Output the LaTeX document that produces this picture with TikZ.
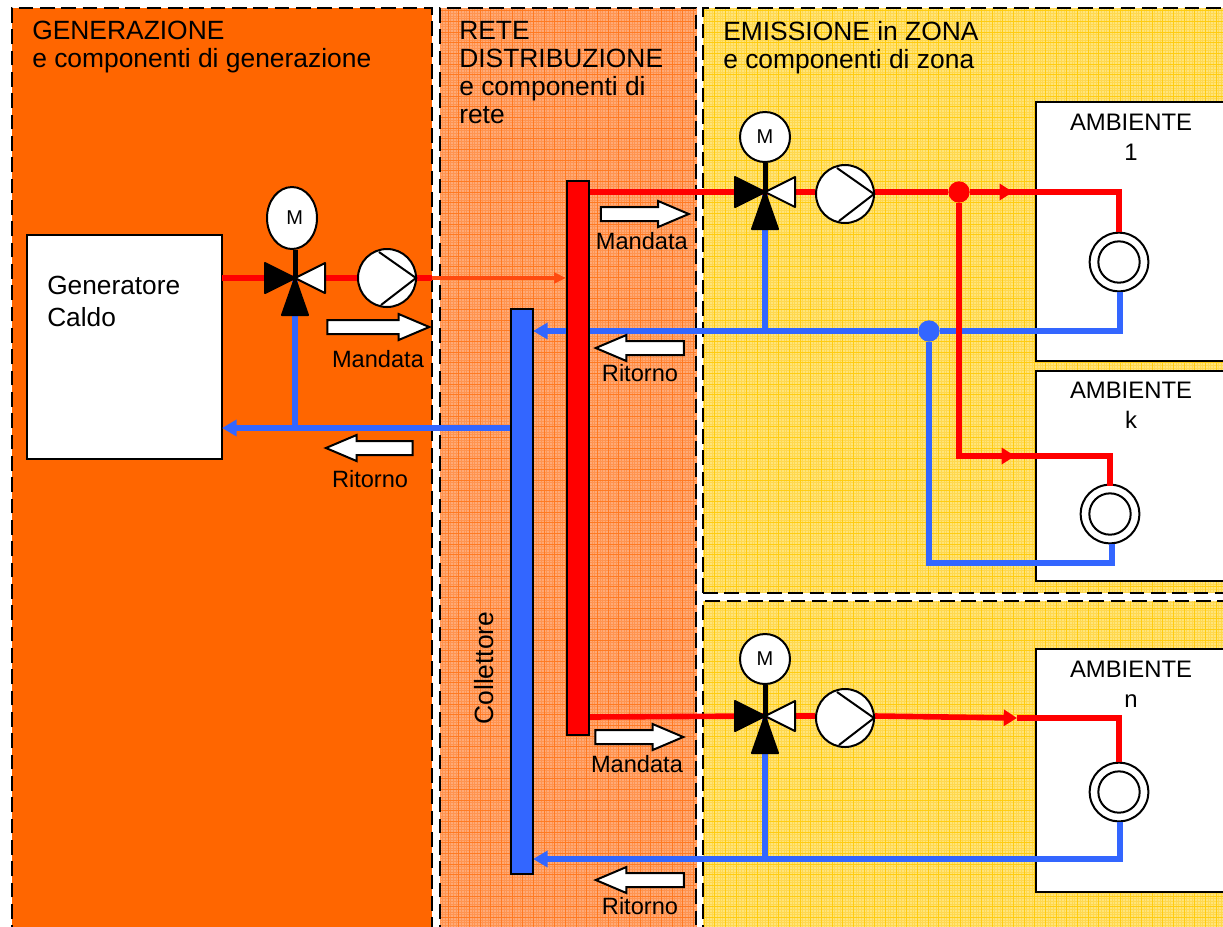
\documentclass[tikz,border=0pt]{standalone}
\usepackage{fontspec}
\usepackage{xcolor}
\setmainfont{Liberation Sans}
\usetikzlibrary{shapes,arrows.meta,positioning}

\definecolor{genorange}{HTML}{FF6600}
\definecolor{netpeach}{HTML}{FFAA77}
\definecolor{netfine}{HTML}{FF9450}
\definecolor{netline}{HTML}{FF7A22}
\definecolor{zoneyellow}{HTML}{FFE57A}
\definecolor{zonefine}{HTML}{FFD84F}
\definecolor{zoneline}{HTML}{FFCC11}
\definecolor{pipered}{HTML}{FF0000}
\definecolor{pipelink}{HTML}{FF4A0F}
\definecolor{pipeblue}{HTML}{3366FF}

\tikzset{
  valve/.pic={
    \coordinate (-c) at (0,0);
    \draw[black, line width=1.5pt, fill=white, line join=round] (0,0) -- (30,-15) -- (30,15) -- cycle;
    \draw[black, line width=1.5pt, fill=black, line join=round] (0,0) -- (-30,-15) -- (-30,15) -- cycle;
    \draw[black, line width=1.5pt, fill=black, line join=round] (0,0) -- (-13,37) -- (13,37) -- cycle;
  },
  pumpmark/.pic={
    \draw[black, line width=1.5pt] (-8,-26) -- (29,0) -- (-6,27);
  }
}

\begin{document}
\begin{tikzpicture}[
    x=0.75pt, y=-0.75pt,
    panel/.style={black, line width=1.5pt, dash pattern=on 11pt off 5pt},
    netgrid/.style={netline, line width=0.75pt, step=8pt},
    netdots/.style={netfine, line width=0.5pt, step=2pt},
    zonegrid/.style={zoneline, line width=0.75pt, step=8pt},
    zonedots/.style={zonefine, line width=0.5pt, step=2pt},
    headtext/.style={anchor=north west, inner sep=0pt, align=left,
                     font=\fontsize{19.8}{21}\selectfont},
    bar/.style={draw=black, line width=1.5pt, minimum width=16.5pt, inner sep=0pt},
    room/.style={draw=black, fill=white, line width=1.5pt, inner sep=0pt, minimum width=180pt},
    roomtext/.style={anchor=north, inner sep=0pt, align=center,
                     font=\fontsize{17.9}{22}\selectfont},
    motor/.style={draw=black, fill=white, line width=1.5pt, circle, inner sep=0pt,
                  minimum size=37.5pt, font=\fontsize{15}{16}\selectfont},
    pump/.style={draw=black, fill=white, line width=1.5pt, circle, inner sep=0pt,
                 minimum size=43.5pt},
    radout/.style={draw=black, fill=white, line width=1.5pt, circle, inner sep=0pt,
                   minimum size=44pt},
    radin/.style={draw=black, line width=1.5pt, circle, inner sep=0pt,
                  minimum size=31pt},
    flowarr/.style={single arrow, draw=black, fill=white, line width=1.5pt,
                    inner xsep=0pt, inner ysep=4.5pt, minimum height=66pt,
                    single arrow head extend=4.5pt, single arrow tip angle=46},
    flowtext/.style={inner sep=0pt, font=\fontsize{17.7}{20}\selectfont},
    redpipe/.style={pipered, line width=4.2pt},
    bluepipe/.style={pipeblue, line width=4.2pt},
    redarr/.style={redpipe, -{Triangle[length=10pt, width=12pt]}},
    bluearr/.style={bluepipe, -{Triangle[length=11pt, width=12pt]}},
    stem/.style={black, line width=3.75pt},
    redjoint/.style={circle, fill=pipered, inner sep=0pt, minimum size=16pt},
    bluejoint/.style={circle, fill=pipeblue, inner sep=0pt, minimum size=16pt}
]
\clip (0,0) rectangle (1223,926);
\fill[white] (0,0) rectangle (1223,926);

% zones
\fill[genorange] (12,8) rectangle (432,940);
\draw[panel] (12,940) -- (12,8) -- (432,8) -- (432,940);

\fill[netpeach] (440,8) rectangle (696,940);
\draw[netdots] (440,8) grid (696,940);
\draw[netgrid] (440,8) grid (696,940);
\draw[panel] (440,940) -- (440,8) -- (696,8) -- (696,940);

\fill[zoneyellow] (703,8) rectangle (1240,593);
\draw[zonedots] (703,8) grid (1240,593);
\draw[zonegrid] (703,8) grid (1240,593);
\draw[panel] (703,593) -- (703,8) -- (1240,8);
\draw[panel] (703,593) -- (1240,593);

\fill[zoneyellow] (703,601) rectangle (1240,940);
\draw[zonedots] (703,601) grid (1240,940);
\draw[zonegrid] (703,601) grid (1240,940);
\draw[panel] (703,940) -- (703,601) -- (1240,601);

\node[headtext] (headgen) at (32,21) {GENERAZIONE\\e componenti di generazione};
\node[headtext] (headnet) at (459,21) {RETE\\DISTRIBUZIONE\\e componenti di\\rete};
\node[headtext] (headzone) at (723,21) {EMISSIONE in ZONA\\e componenti di zona};

% boxes
\node[draw=black, fill=white, line width=1.5pt, minimum width=146pt, minimum height=168pt,
      inner sep=0pt] (gen) at (124.5,347) {};
\node[anchor=north west, inner sep=0pt, align=left, font=\fontsize{19.7}{24}\selectfont]
      (gentext) at (47,276) {Generatore\\Caldo};

\node[room, minimum height=194pt, anchor=north west] (room1) at (1035,101) {};
\node[room, minimum height=157.5pt, anchor=north west] (roomk) at (1035,370) {};
\node[room, minimum height=182pt, anchor=north west] (roomn) at (1035,648) {};
\node[roomtext] (room1text) at (1131,114) {AMBIENTE\\1};
\node[roomtext] (roomktext) at (1131,382) {AMBIENTE\\k};
\node[roomtext] (roomntext) at (1131,661) {AMBIENTE\\n};

% equipment anchors
\coordinate (vgen) at (295,278);
\coordinate (v1) at (765,192);
\coordinate (v2) at (765,716);
\node[pump] (pgen) at (387,278) {};
\node[pump] (p1) at (845,194) {};
\node[pump] (p2) at (845,718) {};
\node[radout] (rad1) at (1119,262) {};
\node[radout] (radk) at (1110,514) {};
\node[radout] (radn) at (1119,792) {};
\node[redjoint] (redj) at (959,192) {};
\node[bluejoint] (bluej) at (929,331) {};

\coordinate (barred) at (578,458);
\coordinate (barblue) at (521.5,591.5);
\coordinate (genret) at (222,428);
\coordinate (genin) at (222,278);
\coordinate (tipnet) at (566,278);
\coordinate (zoneedge) at (432,278);
\coordinate (bluetop) at (533,331);
\coordinate (bluelow) at (533,859);
\coordinate (retgen) at (295,428);
\coordinate (ret1) at (765,331);
\coordinate (ret2) at (765,859);
\coordinate (corner1r) at (1119,192);
\coordinate (corner1b) at (1120,331);
\coordinate (cornerkr) at (959,456);
\coordinate (cornerka) at (1110,456);
\coordinate (cornerkb) at (929,563);
\coordinate (cornerkc) at (1112,563);
\coordinate (cornernr) at (1119,718);
\coordinate (cornernb) at (1120,859);
\coordinate (tip1) at (1013,192);
\coordinate (tipk) at (1015,456);
\coordinate (tipn) at (1017,718);
\coordinate (barout1) at (589,192);
\coordinate (barout2) at (589,717);
\coordinate (barin) at (510,428);

% return pipes
\draw[bluepipe] (vgen) -- (retgen);
\draw[bluearr] (barin) -- (genret);
\draw[bluepipe] (v1) -- (ret1);
\draw[bluepipe] (rad1.south -| corner1b) -- (corner1b) -- (bluej);
\draw[bluearr] (bluej) -- (bluetop);
\draw[bluepipe] (bluej) -- (cornerkb) -- (cornerkc) -- (radk.south -| cornerkc);
\draw[bluepipe] (v2) -- (ret2);
\draw[bluepipe] (radn.south -| cornernb) -- (cornernb) -- (ret2);
\draw[bluearr] (ret2) -- (bluelow);

% supply pipes
\draw[redpipe] (genin) -- (vgen);
\draw[redpipe] (vgen) -- (pgen);
\draw[redpipe] (pgen) -- (zoneedge);
\draw[pipelink, line width=2.4pt, -{Triangle[length=9pt, width=8pt]}] (zoneedge) -- (tipnet);
\draw[redpipe] (barout1) -- (v1);
\draw[redpipe] (v1) -- (p1.west |- v1);
\draw[redpipe] (p1.east |- v1) -- (redj);
\draw[redpipe] (redj) -- (corner1r) -- (rad1.north -| corner1r);
\draw[redarr] (redj) -- (tip1);
\draw[redpipe] (redj) -- (cornerkr) -- (cornerka) -- ([yshift=-2pt]radk.north -| cornerka);
\draw[redarr] (cornerkr) -- (tipk);
\draw[redpipe] (barout2) -- (v2);
\draw[redpipe] (v2) -- (p2.west |- v2);
\draw[redpipe] (tipn) -- (cornernr) -- (radn.north -| cornernr);
\draw[redarr] (p2.east |- v2) -- (tipn);

% collectors
\node[bar, fill=pipeblue, minimum height=423.5pt] (coll) at (barblue) {};
\node[bar, fill=pipered, minimum height=415.5pt] (feed) at (barred) {};
\node[inner sep=0pt, rotate=90, font=\fontsize{19.8}{20}\selectfont] (colltext) at (484,668) {Collettore};

% valves and pumps
\node[motor, ellipse, minimum width=37.5pt, minimum height=46.5pt] (mgen) at (292,218) {\hspace{4pt}M};
\node[motor] (m1) at (765,137) {\raisebox{-3.5pt}{M}};
\node[motor] (m2) at (765,659) {\raisebox{1pt}{M}};
\draw[stem] (mgen.south -| vgen) -- (vgen);
\draw[stem] (m1) -- (v1);
\draw[stem] (m2) -- (v2);
\pic (vg) at (vgen) {valve};
\pic (va) at (v1) {valve};
\pic (vb) at (v2) {valve};
\pic at (pgen) {pumpmark};
\pic at (p1) {pumpmark};
\pic at (p2) {pumpmark};
\node[radin] (rad1in) at (rad1) {};
\node[radin] (radkin) at (radk) {};
\node[radin] (radnin) at (radn) {};

% flow labels
\node[flowarr, minimum height=76.5pt] (mand0) at (370,327) {};
\node[flowarr, minimum height=65pt, shape border rotate=180] (rit0) at (377.5,448) {};
\node[flowarr] (mand1) at (636.5,214) {};
\node[flowarr, shape border rotate=180] (rit1) at (648,348) {};
\node[flowarr] (mand2) at (631,737) {};
\node[flowarr, shape border rotate=180] (rit2) at (648,880) {};
\node[flowtext, below=11pt of mand0, xshift=6pt] (mand0t) {Mandata};
\node[flowtext, below=10.3pt of rit0, xshift=-5.6pt] (rit0t) {Ritorno};
\node[flowtext, below=7.5pt of mand1, xshift=4pt] (mand1t) {Mandata};
\node[flowtext, below=6pt of rit1, xshift=-6pt] (rit1t) {Ritorno};
\node[flowtext, below=7.5pt of mand2, xshift=4.5pt] (mand2t) {Mandata};
\node[flowtext, below=6.75pt of rit2, xshift=-6pt] (rit2t) {Ritorno};
\end{tikzpicture}
\end{document}
